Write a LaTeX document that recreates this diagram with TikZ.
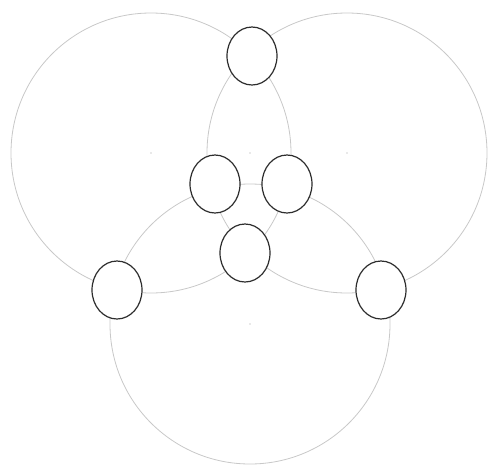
\documentclass[tikz,border=0pt]{standalone}
\usepackage{tikz}
\usetikzlibrary{shapes,positioning}
\definecolor{ringgray}{RGB}{200,200,200}
\definecolor{darkring}{RGB}{45,45,45}

\begin{document}
\begin{tikzpicture}[x=1pt, y=-1pt,
        ring/.style={draw=ringgray, line width=0.8pt},
        spot/.style={ellipse, draw=darkring, fill=white, line width=1.2pt,
                    minimum width=50pt, minimum height=58pt, inner sep=0pt},
        centremark/.style={fill=ringgray!80!black}
    ]
    \useasboundingbox (0,0) rectangle (488,472);

    % the three big circles
    \coordinate (cleft) at (151,153);
    \coordinate (cright) at (347,153);
    \coordinate (cbottom) at (250,324);
    \coordinate (cmid) at (250,153);
    \draw[ring] (cleft) circle (140);
    \draw[ring] (cright) circle (140);
    \draw[ring] (cbottom) circle (140);

    % centre marks
    \foreach \c in {cleft,cright,cbottom,cmid}
        \fill[centremark] (\c) circle (0.7);

    % small ellipses at the crossings
    \node[spot] (top) at (252,56) {};
    \node[spot] (midleft) at (215,184) {};
    \node[spot] (midright) at (287,184) {};
    \node[spot] (inner) at (245,253) {};
    \node[spot] (lowleft) at (117,290) {};
    \node[spot] (lowright) at (381,290) {};
\end{tikzpicture}
\end{document}
